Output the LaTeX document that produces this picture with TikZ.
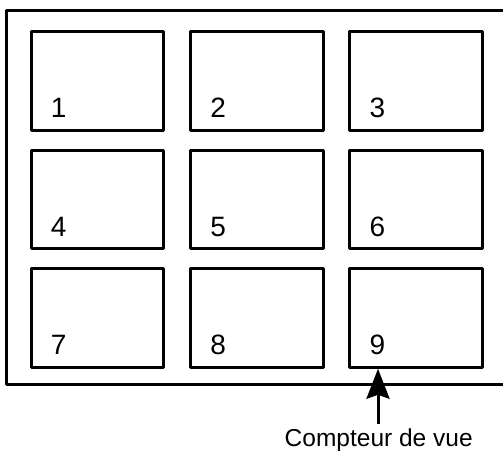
\documentclass[tikz,border=0pt]{standalone}
\usepackage{fontspec}
\setmainfont{Liberation Sans}
\usepackage{tikz}
\usetikzlibrary{arrows.meta,positioning}
\tikzset{
    every picture/.style={line cap=round,line join=round},
    frameline/.style={draw=black,line width=3bp},
    viewbox/.style={draw=black,line width=3bp,
      minimum width=132.5bp,minimum height=98.5bp,inner sep=0pt,outer sep=1.5bp,
      label={[viewnum]south west:#1}},
    viewnum/.style={anchor=base west,inner sep=0pt,xshift=21bp,yshift=14bp,
      font=\fontsize{28bp}{32bp}\selectfont},
    pointer/.style={-{Stealth[length=30bp,width=23bp,inset=4bp]},draw=black,
      line width=3bp,line cap=butt},
    caption/.style={anchor=base,inner sep=0pt,font=\fontsize{24.5bp}{28bp}\selectfont}
}
\begin{document}
\begin{tikzpicture}[x=1bp,y=-1bp]
  \useasboundingbox (0,0) rectangle (503,451);
  % film frame, runs off the right edge
  \draw[frameline] (506,11) -| (6.5,384.7) -- (506,384.7);
  \node[viewbox=1] (b1) at (97.5,81) {};
  \node[viewbox=2,right=23.8bp of b1] (b2) {};
  \node[viewbox=3,right=23.8bp of b2] (b3) {};
  \node[viewbox=4,below=17bp of b1] (b4) {};
  \node[viewbox=5,right=23.8bp of b4] (b5) {};
  \node[viewbox=6,right=23.8bp of b5] (b6) {};
  \node[viewbox=7,below=17bp of b4] (b7) {};
  \node[viewbox=8,right=23.8bp of b7] (b8) {};
  \node[viewbox=9,right=23.8bp of b8] (b9) {};
  \node[caption] (cpt) at (378.7,446) {Compteur de vue};
  \coordinate (tail) at (378,424);
  \draw[pointer] (tail) -- (b9.south -| tail);
\end{tikzpicture}
\end{document}
